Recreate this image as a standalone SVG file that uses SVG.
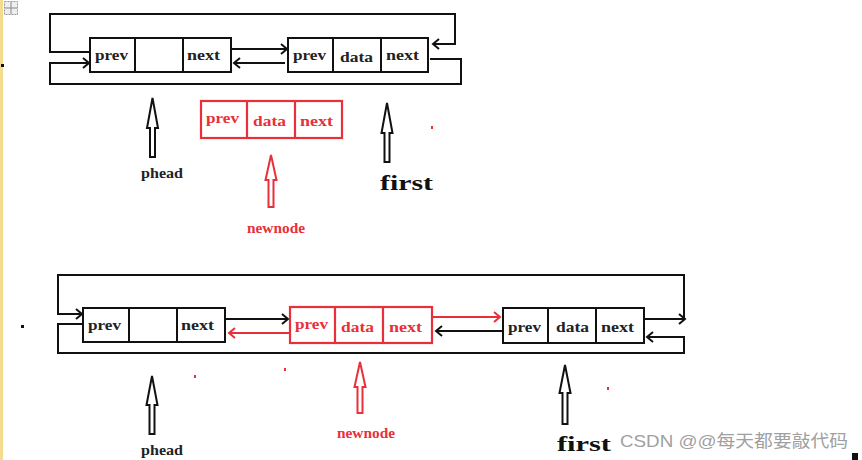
<svg xmlns="http://www.w3.org/2000/svg" width="862" height="460" viewBox="0 0 862 460">
<style>
text{font-variant-ligatures:none}
.bx{fill:#fff;stroke:#111;stroke-width:2}
.rbx{fill:#fff;stroke:#e8303a;stroke-width:2.2}
.dv{stroke:#111;stroke-width:2}
.rdv{stroke:#e8303a;stroke-width:2.2}
.t{font-family:"Liberation Serif","DejaVu Serif",serif;font-weight:bold;font-size:15px;fill:#222}
.rt{font-family:"Liberation Serif","DejaVu Serif",serif;font-weight:bold;font-size:15px;fill:#e8303a}
.lbl{font-family:"Liberation Serif","DejaVu Serif",serif;font-weight:bold;font-size:15px;fill:#222}
.big{font-family:"Liberation Serif","DejaVu Serif",serif;font-weight:bold;font-size:20px;fill:#111}
.c{fill:none;stroke:#111;stroke-width:2}
.rc{fill:none;stroke:#e8303a;stroke-width:2}
.ha{fill:#fff;stroke:#111;stroke-width:2}
.rha{fill:#fff;stroke:#e8303a;stroke-width:2}
</style>
<defs>
<marker id="ab" markerUnits="userSpaceOnUse" markerWidth="12" markerHeight="14" refX="9" refY="7" orient="auto">
<path d="M3,2 L9,7 L3,12" fill="none" stroke="#111" stroke-width="2"/>
</marker>
<marker id="ar" markerUnits="userSpaceOnUse" markerWidth="12" markerHeight="14" refX="9" refY="7" orient="auto">
<path d="M3,2 L9,7 L3,12" fill="none" stroke="#e8303a" stroke-width="2"/>
</marker>
</defs>
<rect width="862" height="460" fill="#fff"/>
<rect x="0" y="0" width="3" height="460" fill="#f3dc8e"/>
<g id="ui-icon">
<rect x="4.5" y="1.5" width="13" height="13" fill="#eee" stroke="#999" stroke-dasharray="2,1"/>
<path d="M11,2 V14 M5,8 H17" stroke="#888" stroke-width="1"/>
</g>
<g id="marks">
<rect x="1" y="64" width="3" height="3" fill="#111"/>
<rect x="21" y="325" width="3" height="3" fill="#111"/>
<rect x="431" y="126" width="2" height="3" fill="#e8303a"/>
<rect x="194" y="375" width="2" height="3" fill="#e8303a"/>
<rect x="284" y="368" width="2" height="3" fill="#e8303a"/>
<rect x="607" y="387" width="2" height="3" fill="#e8303a"/>
<rect x="852" y="453" width="6" height="7" fill="#111"/>
</g>
<g id="connectors">
<path class="c" d="M90,52 L50,52 L50,14 L455,14 L455,44 L433,44" marker-end="url(#ab)"/>
<path class="c" d="M430,59 L461,59 L461,84 L50,84 L50,63 L89,63" marker-end="url(#ab)"/>
<path class="c" d="M231,49 L287,49" marker-end="url(#ab)"/>
<path class="c" d="M285,63 L234,63" marker-end="url(#ab)"/>
<path class="c" d="M644,319 L685,319" marker-end="url(#ab)"/>
<path class="c" d="M684,319 L684,275 L58,275 L58,314 L82,314" marker-end="url(#ab)"/>
<path class="c" d="M83,324 L58,324 L58,353 L684,353 L684,337 L647,337" marker-end="url(#ab)"/>
<path class="c" d="M225,319 L288,319" marker-end="url(#ab)"/>
<path class="rc" d="M289,333 L229,333" marker-end="url(#ar)"/>
<path class="rc" d="M433,317 L500,317" marker-end="url(#ar)"/>
<path class="c" d="M502,331 L436,331" marker-end="url(#ab)"/>
</g>
<g id="top-phead-node">
<rect class="bx" x="90" y="38" width="141" height="34"/>
<line class="dv" x1="135" y1="38" x2="135" y2="72"/>
<line class="dv" x1="183" y1="38" x2="183" y2="72"/>
<text class="t" x="95" y="60" textLength="33" lengthAdjust="spacingAndGlyphs">prev</text>
<text class="t" x="187" y="60" textLength="33" lengthAdjust="spacingAndGlyphs">next</text>
</g>
<g id="top-first-node">
<rect class="bx" x="288" y="38" width="140" height="34"/>
<line class="dv" x1="333" y1="38" x2="333" y2="72"/>
<line class="dv" x1="381" y1="38" x2="381" y2="72"/>
<text class="t" x="293" y="60" textLength="33" lengthAdjust="spacingAndGlyphs">prev</text>
<text class="t" x="340" y="62" textLength="33" lengthAdjust="spacingAndGlyphs">data</text>
<text class="t" x="386" y="60" textLength="33" lengthAdjust="spacingAndGlyphs">next</text>
</g>
<g id="top-newnode">
<rect class="rbx" x="201" y="101" width="141" height="37"/>
<line class="rdv" x1="247" y1="101" x2="247" y2="138"/>
<line class="rdv" x1="295" y1="101" x2="295" y2="138"/>
<text class="rt" x="206" y="123" textLength="33" lengthAdjust="spacingAndGlyphs">prev</text>
<text class="rt" x="253" y="126" textLength="33" lengthAdjust="spacingAndGlyphs">data</text>
<text class="rt" x="300" y="126" textLength="33" lengthAdjust="spacingAndGlyphs">next</text>
</g>
<g id="top-phead-pointer">
<polygon class="ha" points="152.5,98 147,128 150,128 150,157 155,157 155,128 158,128"/>
<text class="lbl" x="141" y="178" textLength="42" lengthAdjust="spacingAndGlyphs">phead</text>
</g>
<g id="top-newnode-pointer">
<polygon class="rha" points="271,155 265.5,180 268.5,180 268.5,207 273.5,207 273.5,180 276.5,180"/>
<text class="rt" x="247" y="233" textLength="58" lengthAdjust="spacingAndGlyphs">newnode</text>
</g>
<g id="top-first-pointer">
<polygon class="ha" points="387,103 381.5,133 384.5,133 384.5,162 389.5,162 389.5,133 392.5,133"/>
<text class="big" x="380" y="190" textLength="53" lengthAdjust="spacingAndGlyphs">first</text>
</g>
<g id="bot-phead-node">
<rect class="bx" x="83" y="308" width="142" height="34"/>
<line class="dv" x1="129" y1="308" x2="129" y2="342"/>
<line class="dv" x1="177" y1="308" x2="177" y2="342"/>
<text class="t" x="88" y="330" textLength="33" lengthAdjust="spacingAndGlyphs">prev</text>
<text class="t" x="181" y="330" textLength="33" lengthAdjust="spacingAndGlyphs">next</text>
</g>
<g id="bot-newnode">
<rect class="rbx" x="290" y="307" width="142" height="36"/>
<line class="rdv" x1="335" y1="307" x2="335" y2="343"/>
<line class="rdv" x1="383" y1="307" x2="383" y2="343"/>
<text class="rt" x="295" y="329" textLength="33" lengthAdjust="spacingAndGlyphs">prev</text>
<text class="rt" x="341" y="332" textLength="33" lengthAdjust="spacingAndGlyphs">data</text>
<text class="rt" x="389" y="332" textLength="33" lengthAdjust="spacingAndGlyphs">next</text>
</g>
<g id="bot-first-node">
<rect class="bx" x="503" y="308" width="141" height="35"/>
<line class="dv" x1="548" y1="308" x2="548" y2="343"/>
<line class="dv" x1="596" y1="308" x2="596" y2="343"/>
<text class="t" x="508" y="332" textLength="33" lengthAdjust="spacingAndGlyphs">prev</text>
<text class="t" x="556" y="332" textLength="33" lengthAdjust="spacingAndGlyphs">data</text>
<text class="t" x="601" y="332" textLength="33" lengthAdjust="spacingAndGlyphs">next</text>
</g>
<g id="bot-phead-pointer">
<polygon class="ha" points="152,376 146.5,405 149.5,405 149.5,434 154.5,434 154.5,405 157.5,405"/>
<text class="lbl" x="141" y="455" textLength="42" lengthAdjust="spacingAndGlyphs">phead</text>
</g>
<g id="bot-newnode-pointer">
<polygon class="rha" points="360,362 354.5,387 357.5,387 357.5,413 362.5,413 362.5,387 365.5,387"/>
<text class="rt" x="337" y="438" textLength="58" lengthAdjust="spacingAndGlyphs">newnode</text>
</g>
<g id="bot-first-pointer">
<polygon class="ha" points="565,365 559.5,393 562.5,393 562.5,424 567.5,424 567.5,393 570.5,393"/>
<text class="big" x="557" y="451" textLength="54" lengthAdjust="spacingAndGlyphs">first</text>
</g>
<text x="620" y="447" textLength="228" lengthAdjust="spacingAndGlyphs" font-family="'Liberation Sans','Noto Sans CJK SC',sans-serif" font-size="17" fill="#a0a0a0">CSDN @@每天都要敲代码</text>
</svg>
